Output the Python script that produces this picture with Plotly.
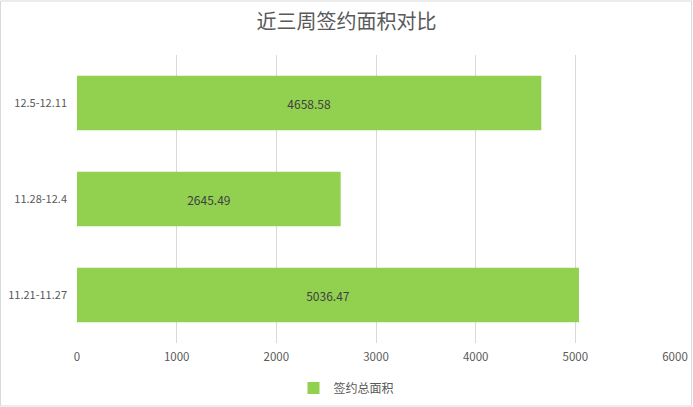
import plotly.graph_objects as go

# data
categories = ["11.21-11.27", "11.28-12.4", "12.5-12.11"]
areas = [5036.47, 2645.49, 4658.58]
series_name = "签约总面积"
title_text = "近三周签约面积对比"
x_ticks = [0, 1000, 2000, 3000, 4000, 5000, 6000]

font_family = "Liberation Sans Narrow, Noto Sans CJK SC, sans-serif"
bar_color = "#92d050"

fig = go.Figure()

fig.add_trace(go.Bar(
    y=categories,
    x=areas,
    orientation="h",
    name=series_name,
    marker=dict(color=bar_color, line=dict(width=0)),
    width=0.57,
    text=[f"{v:.2f}" for v in areas],
    textposition="inside",
    insidetextanchor="middle",
    textfont=dict(size=12, color="#404040", family=font_family),
    showlegend=True,
))

fig.update_layout(
    width=693,
    height=407,
    paper_bgcolor="white",
    plot_bgcolor="white",
    margin=dict(l=77, r=18, t=55, b=64, autoexpand=False),
    title=dict(
        text=title_text,
        x=0.5,
        xanchor="center",
        xref="container",
        y=1 - 22 / 407,
        yanchor="middle",
        font=dict(size=20, color="#595959", family="Noto Sans CJK SC, sans-serif"),
    ),
    xaxis=dict(
        range=[0, 6000],
        tickvals=x_ticks,
        showgrid=True,
        gridcolor="#d9d9d9",
        gridwidth=1,
        zeroline=False,
        showline=False,
        ticks="",
        automargin=False,
        ticklabelstandoff=5,
        tickfont=dict(size=11.5, color="#595959", family=font_family),
    ),
    yaxis=dict(
        showgrid=False,
        zeroline=False,
        showline=False,
        ticks="",
        automargin=False,
        ticklabelstandoff=9,
        tickfont=dict(size=11, color="#595959", family=font_family),
    ),
    legend=dict(
        orientation="h",
        xref="container",
        x=0.5,
        xanchor="center",
        yref="container",
        y=1 - 388 / 407,
        yanchor="middle",
        font=dict(size=12, color="#595959", family="Noto Sans CJK SC, sans-serif"),
        itemwidth=30,
    ),
    shapes=[dict(
        type="rect",
        xref="paper", yref="paper",
        x0=-76.5 / 598, x1=1 + 16.5 / 598,
        y0=-63 / 288, y1=1 + 54 / 288,
        line=dict(color="#d9d9d9", width=1),
        fillcolor="rgba(0,0,0,0)",
        layer="below",
    )],
)

# drop the default page margin so the figure sits at the window corner
fig.write_html(
    "out.html",
    config={"displayModeBar": False},
    post_script="document.body.style.margin='0px';",
)
